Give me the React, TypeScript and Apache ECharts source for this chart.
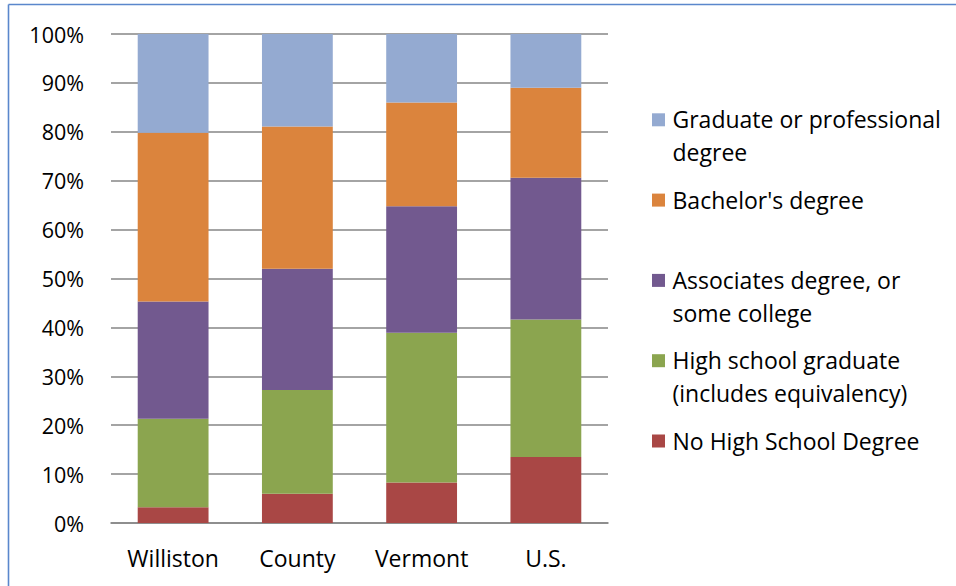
import React, { useEffect, useRef } from 'react';
import * as echarts from 'echarts';

const categories = ['Williston', 'County', 'Vermont', 'U.S.'];
const noHighSchool = [3.2, 6.0, 8.3, 13.5];
const highSchool = [18.1, 21.2, 30.6, 28.1];
const associates = [24.0, 24.8, 25.9, 29.0];
const bachelors = [34.5, 29.1, 21.2, 18.4];
const graduate = [20.2, 18.9, 14.0, 11.0];

const seriesNames = [
  'No High School Degree',
  'High school graduate (includes equivalency)',
  'Associates degree, or some college',
  "Bachelor's degree",
  'Graduate or professional degree',
];
const seriesData = [noHighSchool, highSchool, associates, bachelors, graduate];
const seriesColors = ['#A94745', '#8BA54F', '#72598F', '#DB843D', '#94AAD1'];

// legend (top to bottom), wrapped as in the reference
const legendLabels = [
  'Graduate or professional\ndegree',
  "Bachelor's degree",
  'Associates degree, or\nsome college',
  'High school graduate\n(includes equivalency)',
  'No High School Degree',
];
const legendColors = ['#94AAD1', '#DB843D', '#72598F', '#8BA54F', '#A94745'];

const FONT = '"Open Sans", "Noto Sans", sans-serif';

export default function App() {
  const ref = useRef<HTMLDivElement>(null);
  useEffect(() => {
    document.body.style.margin = '0';
    if (!ref.current) return;
    const chart = echarts.init(ref.current, undefined, { renderer: 'svg' });

    const legendGraphics: any[] = [];
    legendLabels.forEach((label, i) => {
      const top = 113.3 + 80.3 * i;
      legendGraphics.push({
        type: 'rect',
        shape: { x: 652, y: top, width: 13, height: 13 },
        style: { fill: legendColors[i] },
        silent: true,
      });
      legendGraphics.push({
        type: 'text',
        x: 672.5,
        y: top - 10.3,
        style: {
          text: label,
          font: `23px ${FONT}`,
          fontSize: 23,
          fontFamily: FONT,
          lineHeight: 32.7,
          fill: '#000000',
          verticalAlign: 'top',
          align: 'left',
        },
        silent: true,
      });
    });

    chart.setOption({
      animation: false,
      backgroundColor: '#ffffff',
      grid: { left: 111, right: 348, top: 34, bottom: 63, containLabel: false },
      xAxis: {
        type: 'category',
        data: categories,
        axisLine: { show: true, lineStyle: { color: '#868686', width: 1.6 } },
        axisTick: { show: false },
        axisLabel: {
          color: '#000000',
          fontFamily: FONT,
          fontSize: 23,
          margin: 23,
        },
      },
      yAxis: {
        type: 'value',
        min: 0,
        max: 100,
        interval: 10,
        axisLine: { show: false },
        axisTick: { show: false },
        splitLine: { show: true, lineStyle: { color: '#868686', width: 1.6 } },
        axisLabel: {
          color: '#000000',
          fontFamily: FONT,
          fontSize: 21.5,
          margin: 27,
          formatter: '{value}%',
        },
      },
      series: seriesNames.map((name, i) => ({
        name,
        type: 'bar',
        stack: 'total',
        data: seriesData[i],
        barCategoryGap: '43%',
        itemStyle: { color: seriesColors[i] },
      })),
      graphic: [
        {
          type: 'line',
          shape: { x1: 8.5, y1: 4.5, x2: 956, y2: 4.5 },
          style: { stroke: '#5A87CC', lineWidth: 1.6 },
          silent: true,
        },
        {
          type: 'line',
          shape: { x1: 8.5, y1: 4.5, x2: 8.5, y2: 586 },
          style: { stroke: '#5A87CC', lineWidth: 1.6 },
          silent: true,
        },
        ...legendGraphics,
      ],
    });
    return () => chart.dispose();
  }, []);
  return <div ref={ref} style={{ width: 956, height: 586 }} />;
}
